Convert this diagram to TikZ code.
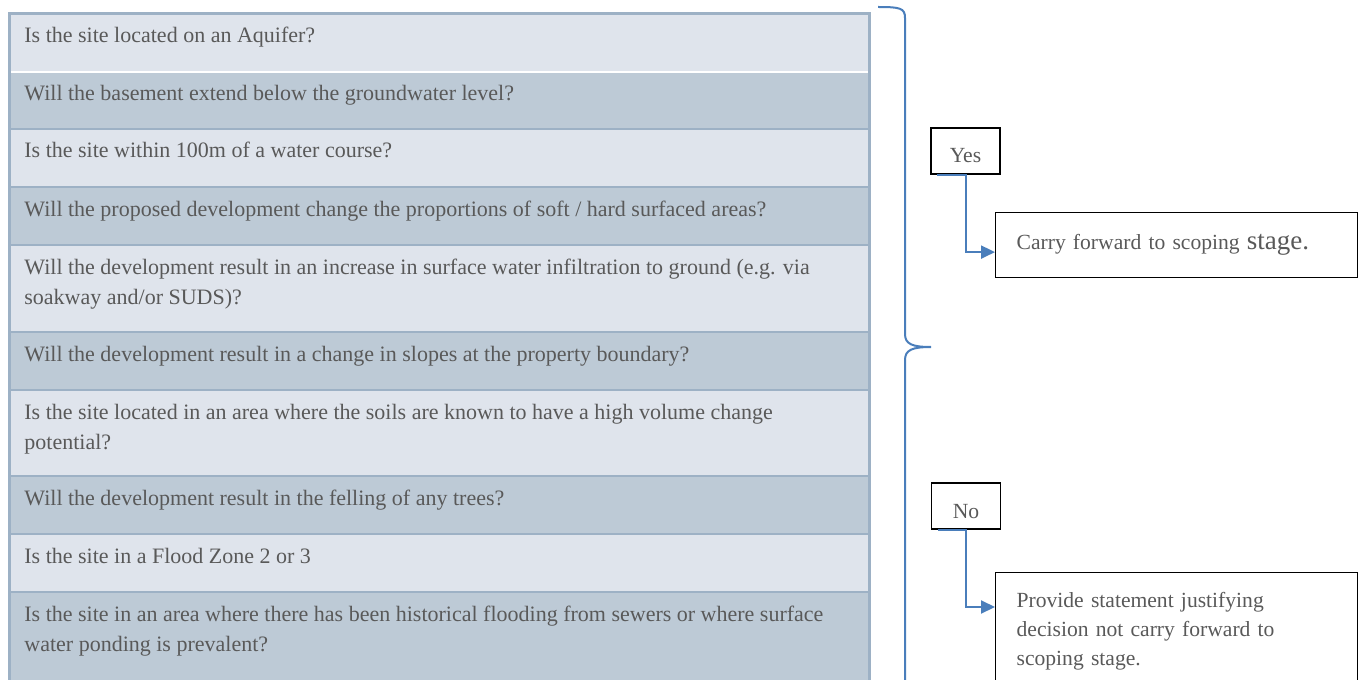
\documentclass[tikz,border=0pt]{standalone}
\usepackage{fontspec}
\setmainfont{Liberation Serif}
\usepackage{xcolor}
\definecolor{RowLight}{HTML}{DFE4EC}
\definecolor{RowDark}{HTML}{BDCAD6}
\definecolor{GridLine}{HTML}{9DB1C5}
\definecolor{FlowBlue}{HTML}{4A7EBB}
\definecolor{TextGrey}{HTML}{595959}
\usetikzlibrary{arrows.meta,positioning}

\begin{document}
\begin{tikzpicture}[
  x=0.5pt,y=-0.5pt,
  question/.style={anchor=base west,align=left,inner sep=0pt,text=TextGrey,font=\fontsize{11}{15}\selectfont},
  choice/.style={draw=black,line width=0.6pt,minimum width=34.5pt,minimum height=23pt,inner sep=0pt,text height=12pt,text depth=0pt,text=TextGrey,font=\fontsize{10.8}{15}\selectfont},
  outcome/.style={draw=black,line width=0.6pt,anchor=north west,text width=160pt,inner xsep=10.5pt,align=left,text=TextGrey,font=\fontsize{10.8}{14.5}\selectfont},
  link/.style={-{Triangle[length=7pt,width=6.5pt]},line width=1pt,draw=FlowBlue},
  rowline/.style={draw=GridLine,line width=1.25pt}
]
\useasboundingbox (0,0) rectangle (1363,679);
\clip (0,0) rectangle (1363,679);
% question table
\fill[RowLight] (9,14) rectangle (869,72);
\fill[RowDark] (9,72) rectangle (869,129);
\fill[RowLight] (9,129) rectangle (869,187);
\fill[RowDark] (9,187) rectangle (869,245);
\fill[RowLight] (9,245) rectangle (869,332);
\fill[RowDark] (9,332) rectangle (869,390);
\fill[RowLight] (9,390) rectangle (869,476);
\fill[RowDark] (9,476) rectangle (869,534);
\fill[RowLight] (9,534) rectangle (869,592);
\fill[RowDark] (9,592) rectangle (869,700);
\draw[white,line width=1pt] (9,72) -- (869,72);
\foreach \y in {129,187,245,332,390,476,534,592}
  \draw[rowline] (9,\y) -- (869,\y);
\draw[GridLine,line width=1.5pt] (9,14) rectangle (869,700);
% two-line nodes sit on their last baseline
\node[question] (q1) at (24,43) {Is the site located on an Aquifer?};
\node[question] (q2) at (24,101) {Will the basement extend below the groundwater level?};
\node[question] (q3) at (24,158) {Is the site within 100m of a water course?};
\node[question] (q4) at (24,216) {Will the proposed development change the proportions of soft / hard surfaced areas?};
\node[question] (q5) at (24,304) {Will the development result in an increase in surface water infiltration to ground (e.g. via\\soakway and/or SUDS)?};
\node[question] (q6) at (24,361) {Will the development result in a change in slopes at the property boundary?};
\node[question] (q7) at (24,449) {Is the site located in an area where the soils are known to have a high volume change\\potential?};
\node[question] (q8) at (24,505) {Will the development result in the felling of any trees?};
\node[question] (q9) at (24,563) {Is the site in a Flood Zone 2 or 3};
\node[question] (q10) at (24,651) {Is the site in an area where there has been historical flooding from sewers or where surface\\water ponding is prevalent?};
% brace
\draw[FlowBlue,line width=1pt] (878,7) .. controls (900,7) and (905,8) .. (905,18) -- (905,334)
  .. controls (905,344) and (912,347) .. (931,347) .. controls (912,347) and (905,350) .. (905,360) -- (905,700);
% decisions
\node[choice] (yes) at (965.5,151) {Yes};
\node[outcome,minimum height=32.5pt] (carry) at (995,212) {Carry forward to scoping {\fontsize{13.5}{14.5}\selectfont stage.}};
\node[choice] (no) at (966,506) {No};
\node[outcome,inner ysep=10pt] (provide) at (995,572) {Provide statement justifying\\decision not carry forward to\\scoping stage.};
\draw[link] ([xshift=3.5pt]yes.south west) -- (yes.south) |- ([yshift=-3.5pt]carry.west);
\draw[link] ([xshift=3.5pt]no.south west) -- (no.south) |- ([yshift=-17.5pt]provide.north west);
\end{tikzpicture}
\end{document}
